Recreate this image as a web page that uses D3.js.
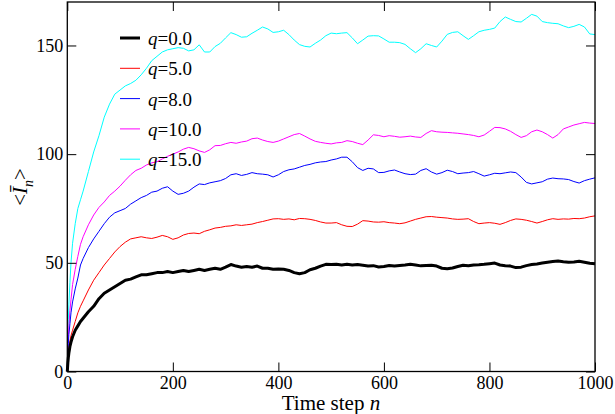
<!DOCTYPE html>
<html>
<head>
<meta charset="utf-8">
<script src="https://cdn.jsdelivr.net/npm/d3@7"></script>
<style>
  body { margin: 0; background: #fff; }
</style>
</head>
<body>
<div id="chart"></div>
<script>
var steps = [0, 1, 2, 3, 5, 7, 10, 15, 20, 25, 30, 40, 50, 60, 70, 80, 90,
  100, 110, 120, 130, 140, 150, 160, 170, 180, 190, 200, 210, 220, 230, 240, 250, 260, 270, 280, 290,
  300, 310, 320, 330, 340, 350, 360, 370, 380, 390, 400, 410, 420, 430, 440, 450, 460, 470, 480, 490,
  500, 510, 520, 530, 540, 550, 560, 570, 580, 590, 600, 610, 620, 630, 640, 650, 660, 670, 680, 690,
  700, 710, 720, 730, 740, 750, 760, 770, 780, 790, 800, 810, 820, 830, 840, 850, 860, 870, 880, 890,
  900, 910, 920, 930, 940, 950, 960, 970, 980, 990, 1000];

var q0 = [0, 4, 6.5, 8.5, 11.5, 13.5, 16, 19, 21, 23, 24.5, 27.5, 30, 33.5, 36, 37.5, 39,
  40.5, 42, 42.5, 43.5, 44.5, 44.5, 45, 45.5, 45.5, 46, 45.5, 46, 46.5, 46, 46.5, 47, 46.5, 47, 47.5, 47,
  48, 49.2, 48.5, 48, 48.3, 48, 48.5, 47.5, 47.5, 47, 47.2, 47, 46.5, 45.5, 45, 45.5, 46.8, 47.5, 48.5, 49.3,
  49.2, 49.3, 49, 49.3, 49, 49.2, 48.9, 48.5, 48.7, 48.1, 48.3, 48.8, 48.5, 48.8, 49, 49.3, 49, 48.6, 48.8, 48.9,
  48.5, 47.5, 47.3, 47.6, 48.3, 48.9, 48.7, 49, 49.1, 49.3, 49.6, 49.9, 49, 48.7, 48.5, 47.8, 48, 48.7, 49.2, 49.5,
  49.9, 50.3, 50.6, 50.8, 50.5, 50.3, 50.4, 50.7, 50.3, 49.8, 49.6];

var q5 = [0, 5, 8, 10, 14, 16.5, 19, 23, 27, 30, 32.5, 37.5, 42, 45.5, 49, 52, 55,
  57.5, 59.5, 61, 61.5, 62, 61.5, 61.2, 61.8, 62.6, 62, 60.8, 61.5, 62.8, 63.5, 63.7, 63.4, 64.5, 65.2, 66, 66.3,
  66.8, 67, 67.5, 67.2, 67.5, 67.8, 68.5, 69, 69.6, 70.2, 70.3, 70, 70.2, 69.8, 70.4, 70.3, 70, 69.5, 68.8, 68.3,
  68.3, 68.5, 67.5, 66.8, 66.7, 67.8, 69.4, 69.2, 68.8, 68.7, 68.9, 68.5, 68.3, 68, 68.4, 69.2, 70, 70.6, 71.2, 71.3,
  71, 70.8, 70.6, 70.2, 70, 70.1, 70.3, 69, 68, 68.3, 68.5, 68.2, 67.7, 68.5, 69.5, 70.2, 70, 69.6, 69, 68.3,
  69, 69.8, 70.3, 70, 70.2, 70.1, 70.4, 70.3, 70.6, 71.2, 71.6];

var q8 = [0, 8, 13, 17, 22, 27, 32, 38, 43, 49, 52, 57, 61, 64.5, 68, 71, 73,
  74, 75, 77, 78.5, 80, 81, 82.5, 83, 84.3, 85, 83, 81.5, 82, 83, 84.8, 86.3, 86, 86.8, 87.3, 87.8,
  88.8, 90.5, 91, 90.2, 90.7, 91.5, 91, 90.8, 90.5, 89.5, 90.5, 92, 92.8, 93.2, 94, 94.8, 95.3, 96, 96.4, 96.6,
  97.3, 97.8, 98.6, 98.6, 96.5, 93.8, 92.5, 93.5, 93.2, 91.5, 91.6, 92.3, 92.7, 91.8, 91, 90.6, 90.8, 92.5, 93.3, 91.8,
  90.8, 91.5, 92.6, 92, 91, 91.3, 91.5, 92, 91, 89.9, 90.5, 91.2, 91, 91.4, 91.8, 91.5, 89.5, 87, 86.3, 86.8,
  87.3, 88.5, 89, 88.7, 88.6, 88.3, 87.4, 86.7, 87.8, 88.5, 89.1];

var q10 = [0, 10, 16, 21, 28, 33, 40, 47, 53, 58.5, 62, 67.5, 72, 75.5, 78, 81, 83,
  85.3, 88, 90.5, 92.5, 93.5, 95, 96, 96.5, 97.8, 99, 100, 101, 102.3, 103.1, 102.5, 101.5, 100.8, 102, 103.9, 104,
  104.8, 105.4, 105, 105.6, 106, 107.1, 107.4, 106.5, 105.8, 105.4, 106, 107, 108, 109, 109.5, 108.3, 107, 105.9, 105.4, 105,
  104.7, 105.2, 105.4, 106.2, 105.8, 105, 104.4, 106.5, 108.9, 108.6, 108, 108.5, 108.2, 107.8, 108, 108.3, 107.9, 107.7, 109.5, 110.8,
  110.3, 110.1, 110, 109.8, 109.6, 109.3, 109, 108.6, 108, 108.8, 110.5, 112.3, 112.2, 111.6, 110.5, 109, 107.7, 108.5, 110.3, 111.1,
  110.3, 109, 107.4, 109, 111.6, 112.5, 113.4, 114, 114.6, 114.3, 114.1];

var q15 = [0, 15, 24, 31, 41, 50, 59, 68, 75, 79, 83, 92, 101, 108.5, 117, 123, 127.6,
  129.5, 131.4, 132.5, 134, 136.5, 139.5, 143, 145, 147, 148, 148.5, 149, 148.7, 147.5, 148, 150.3, 147, 147, 149.5, 151,
  153.5, 155.9, 155, 153.8, 154, 155.6, 157, 158.5, 157.6, 156, 156.3, 157, 155, 152.5, 150.4, 149.6, 149.3, 151, 152.5, 154.5,
  155.7, 155.4, 155.7, 155.9, 153.5, 150.8, 152.5, 154.3, 154.5, 154.4, 153, 151.5, 151.5, 151.3, 150.5, 148.5, 146.7, 148.5, 150.8, 150,
  149.3, 152, 155.1, 156, 156.3, 154.5, 152.8, 154.5, 156.3, 157, 157.4, 158, 161, 163.1, 162, 161, 160.8, 162.5, 164.3, 163.5,
  161, 160.5, 160.2, 160, 159, 158.2, 158.8, 159.7, 158.5, 155.3, 155];

var seriesNames = ['q=0.0', 'q=5.0', 'q=8.0', 'q=10.0', 'q=15.0'];
var seriesColors = ['#000000', '#ff0000', '#0000ff', '#ff00ff', '#00ffff'];
var seriesWidths = [3, 1, 1, 1, 1];
var xTickValues = [0, 200, 400, 600, 800, 1000];
var yTickValues = [0, 50, 100, 150];

var serif = '"Liberation Serif"';

var margin = { top: 2, right: 20, bottom: 42.5, left: 67.3 };
var width = 615 - margin.left - margin.right;
var height = 414 - margin.top - margin.bottom;

var svg = d3.select('#chart')
  .append('svg')
  .attr('width', 615)
  .attr('height', 414);

var g = svg.append('g')
  .attr('transform', 'translate(' + margin.left + ',' + margin.top + ')');

var x = d3.scaleLinear().domain([0, 1000]).range([0, width]);
var y = d3.scaleLinear().domain([0, 170]).range([height, 0]);

var line = d3.line()
  .x(function (d) { return x(d[0]); })
  .y(function (d) { return y(d[1]); });

var allSeries = [q0, q5, q8, q10, q15];
// draw last series first so q=0.0 sits on top
for (var i = allSeries.length - 1; i >= 0; i--) {
  var vals = allSeries[i];
  g.append('path')
    .datum(steps.map(function (s, k) { return [s, vals[k]]; }))
    .attr('fill', 'none')
    .attr('stroke', seriesColors[i])
    .attr('stroke-width', seriesWidths[i])
    .attr('stroke-linejoin', 'round')
    .attr('d', line);
}

// axes, ticks pointing inward on all sides
function styleAxis(sel) {
  sel.select('.domain').remove();
  sel.selectAll('line').attr('stroke', '#000').attr('stroke-width', 1);
  sel.selectAll('text')
    .attr('fill', '#000')
    .style('font-family', serif)
    .style('font-size', '18px');
}

g.append('g')
  .attr('transform', 'translate(0,' + height + ')')
  .call(d3.axisBottom(x).tickValues(xTickValues).tickSize(-9).tickPadding(5).tickFormat(d3.format('d')))
  .call(styleAxis);

g.append('g')
  .call(d3.axisTop(x).tickValues(xTickValues).tickSize(-9).tickFormat(''))
  .call(styleAxis);

g.append('g')
  .call(d3.axisLeft(y).tickValues(yTickValues).tickSize(-9).tickPadding(4).tickFormat(d3.format('d')))
  .call(styleAxis);

g.append('g')
  .attr('transform', 'translate(' + width + ',0)')
  .call(d3.axisRight(y).tickValues(yTickValues).tickSize(-9).tickFormat(''))
  .call(styleAxis);

g.append('rect')
  .attr('width', width)
  .attr('height', height)
  .attr('fill', 'none')
  .attr('stroke', '#000')
  .attr('stroke-width', 1.3);

// legend
var legend = g.append('g').attr('transform', 'translate(' + (120 - margin.left) + ',' + (38 - margin.top) + ')');
seriesNames.forEach(function (name, i) {
  var row = legend.append('g').attr('transform', 'translate(0,' + (i * 30.3) + ')');
  row.append('line')
    .attr('x1', 0).attr('x2', 20)
    .attr('stroke', seriesColors[i])
    .attr('stroke-width', seriesWidths[i]);
  var t = row.append('text')
    .attr('x', 28)
    .attr('y', 7)
    .style('font-family', serif)
    .style('font-size', '19px');
  t.append('tspan').style('font-style', 'italic').text('q');
  t.append('tspan').text(name.slice(1));
});

// axis titles
var xt = svg.append('text')
  .attr('x', 331)
  .attr('y', 410)
  .attr('text-anchor', 'middle')
  .style('font-family', serif)
  .style('font-size', '21px');
xt.append('tspan').text('Time step ');
xt.append('tspan').style('font-style', 'italic').text('n');

var yt = svg.append('text')
  .attr('transform', 'translate(27,187) rotate(-90)')
  .attr('text-anchor', 'middle')
  .style('font-family', serif)
  .style('font-size', '21px');
yt.append('tspan').text('<');
yt.append('tspan').style('font-style', 'italic').text('\u012A');
yt.append('tspan').style('font-style', 'italic').style('font-size', '14px').attr('dy', 6).text('n');
yt.append('tspan').attr('dy', -6).text('>');
</script>
</body>
</html>
